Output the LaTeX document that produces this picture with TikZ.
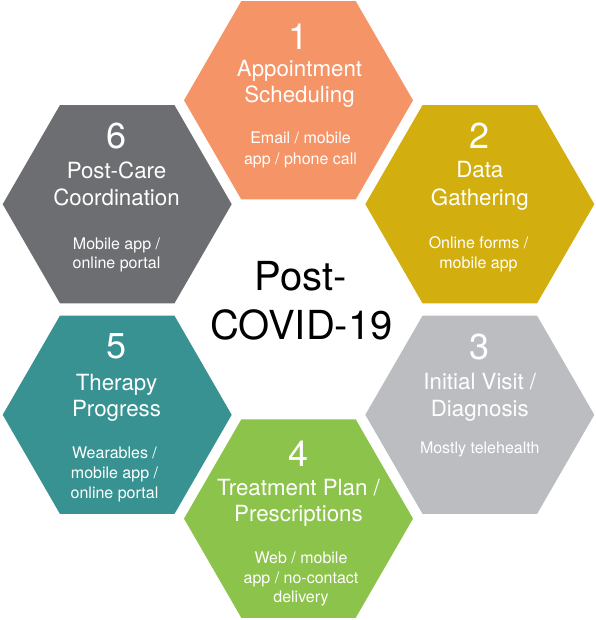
\documentclass[tikz,border=0pt]{standalone}
\usepackage{fontspec}
\setmainfont{TeX Gyre Heros}
\usetikzlibrary{shapes.geometric}
\definecolor{corange}{HTML}{F59467}
\definecolor{cgold}{HTML}{D2AE0F}
\definecolor{clgray}{HTML}{BBBDC0}
\definecolor{cgreen}{HTML}{8CC34B}
\definecolor{cteal}{HTML}{389292}
\definecolor{cdgray}{HTML}{6D6E71}
\begin{document}
\begin{tikzpicture}[x=1pt,y=-1pt,
  hexa/.style={regular polygon, regular polygon sides=6, minimum size=229pt, inner sep=0pt, outer sep=0pt, draw=none},
  numtxt/.style={anchor=base, text=white, font=\fontsize{36}{36}\selectfont, inner sep=0pt},
  ttltxt/.style={anchor=base, text=white, font=\fontsize{22.3}{26}\selectfont, inner sep=0pt},
  subtxt/.style={anchor=base, text=white, font=\fontsize{16}{20}\selectfont, inner sep=0pt},
  ctrtxt/.style={anchor=base, text=black, font=\fontsize{40}{48}\selectfont, inner sep=0pt}]
\useasboundingbox (0,0) rectangle (595,620);

% hexagons
\node[hexa, fill=corange] (h1) at (298.5,100.3) {};
\node[hexa, fill=cgold]   (h2) at (479.8,204.2) {};
\node[hexa, fill=clgray]  (h3) at (479.8,414.8) {};
\node[hexa, fill=cgreen]  (h4) at (298.5,518.6) {};
\node[hexa, fill=cteal]   (h5) at (117.2,414.8) {};
\node[hexa, fill=cdgray]  (h6) at (117.2,204.2) {};

% hexagon 1
\node[numtxt] (n1) at (298.5,50) {1};
\node[ttltxt] (t1a) at (299.5,77) {Appointment};
\node[ttltxt] (t1b) at (299.5,103) {Scheduling};
\node[subtxt] (s1a) at (300.5,144) {Email / mobile};
\node[subtxt] (s1b) at (300.5,165) {app / phone call};

% hexagon 2
\node[numtxt] (n2) at (479.8,149) {2};
\node[ttltxt] (t2a) at (479.8,177.7) {Data};
\node[ttltxt] (t2b) at (479.8,205) {Gathering};
\node[subtxt] (s2a) at (478.5,248.3) {Online forms /};
\node[subtxt] (s2b) at (478.5,268.3) {mobile app};

% hexagon 3
\node[numtxt] (n3) at (479.8,359) {3};
\node[ttltxt] (t3a) at (479.8,389.3) {Initial Visit /};
\node[ttltxt] (t3b) at (479.8,416) {Diagnosis};
\node[subtxt] (s3a) at (479.8,453.3) {Mostly telehealth};

% hexagon 4
\node[numtxt] (n4) at (298.5,466.7) {4};
\node[ttltxt] (t4a) at (298.5,495) {Treatment Plan /};
\node[ttltxt] (t4b) at (298.5,521.7) {Prescriptions};
\node[subtxt] (s4a) at (301,563.3) {Web / mobile};
\node[subtxt] (s4b) at (301,583.3) {app / no-contact};
\node[subtxt] (s4c) at (301,602.7) {delivery};

% hexagon 5
\node[numtxt] (n5) at (116.5,358.3) {5};
\node[ttltxt] (t5a) at (116.5,390) {Therapy};
\node[ttltxt] (t5b) at (116.5,416) {Progress};
\node[subtxt] (s5a) at (114.5,458.3) {Wearables /};
\node[subtxt] (s5b) at (114.5,478.3) {mobile app /};
\node[subtxt] (s5c) at (114.5,498.3) {online portal};

% hexagon 6
\node[numtxt] (n6) at (116.5,149) {6};
\node[ttltxt] (t6a) at (116.5,178.3) {Post-Care};
\node[ttltxt] (t6b) at (116.5,205) {Coordination};
\node[subtxt] (s6a) at (116.5,249) {Mobile app /};
\node[subtxt] (s6b) at (116.5,268.3) {online portal};

% centre
\node[ctrtxt] (c1) at (300.5,290.7) {Post-};
\node[ctrtxt] (c2) at (301.5,339.3) {COVID-19};
\end{tikzpicture}
\end{document}
